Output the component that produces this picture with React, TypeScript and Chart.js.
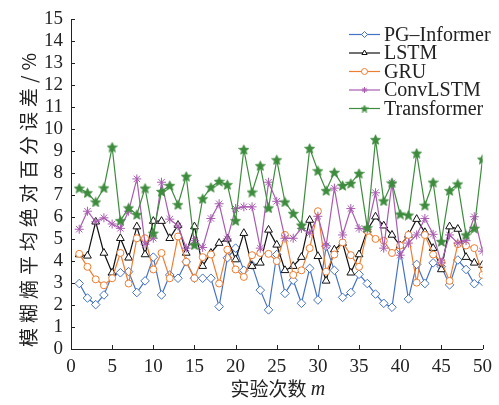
import React, { useEffect, useRef } from 'react';
import { Chart, registerables } from 'chart.js';
import { drawPoint } from 'chart.js/helpers';

Chart.register(...registerables);

const trials = [1,2,3,4,5,6,7,8,9,10,11,12,13,14,15,16,17,18,19,20,21,22,23,24,25,26,27,28,29,30,31,32,33,34,35,36,37,38,39,40,41,42,43,44,45,46,47,48,49,50];

const pgInformer = [2.98,2.32,2.02,2.46,3.37,3.47,3.52,2.57,3.1,4.18,2.46,3.37,3.22,3.97,3.22,3.22,3.22,1.93,4.15,4.59,3.58,3.82,2.68,1.78,4.3,2.53,3.13,2.08,3.67,2.23,4.67,3.58,2.35,2.57,3.4,2.98,2.5,2.08,1.9,4.55,2.28,3.85,2.98,3.92,3.75,2.92,4.05,3.62,2.97,3.07];
const lstm = [4.3,4.24,5.79,4.37,3.47,5.04,4.15,5.57,4.3,5.82,5.82,5.04,5.64,4.37,5.57,3.77,4.37,4.82,5.01,4.07,5.27,3.77,3.92,5.42,4.74,3.58,3.77,4.18,5.87,4.22,3.1,4.52,4.82,3.47,4.3,5.42,6.02,5.61,5.19,4.71,5.19,5.91,5.31,4.59,3.62,5.57,5.46,4.18,3.92,3.82];
const gru = [4.33,3.74,3.17,2.9,3.22,4.37,2.98,5.04,5.04,3.62,4.37,3.22,5.12,3.97,3.22,4.18,4.3,2.98,4.52,3.62,3.28,4.27,4.37,4.33,4.0,5.19,3.37,3.58,4.59,6.27,3.52,4.3,4.85,4.27,3.74,5.37,5.01,4.93,4.37,4.71,5.19,3.02,5.19,4.3,3.97,3.1,4.77,4.71,4.59,3.37];
const convLstm = [5.45,6.27,5.79,5.97,5.69,5.49,6.27,7.74,4.77,5.04,7.59,5.91,5.6,4.59,4.93,4.62,5.94,6.61,5.01,6.39,6.47,6.47,4.59,7.59,6.72,5.04,5.04,5.49,5.27,6.04,4.7,7.32,5.19,6.39,5.49,5.45,7.11,4.59,7.56,4.27,4.82,5.19,5.94,5.22,3.92,5.19,4.82,4.93,6.02,4.45];
const transformer = [7.32,7.11,6.69,7.33,9.19,5.84,6.42,6.12,7.32,5.27,7.17,7.44,6.57,7.86,4.74,6.84,7.36,7.63,7.48,5.84,9.08,7.14,8.34,6.42,8.61,6.69,6.17,5.64,9.13,8.11,7.21,8.04,7.44,7.54,7.99,5.52,9.53,6.74,7.56,6.14,6.09,8.91,6.54,7.59,4.89,7.21,7.51,5.19,5.49,8.64];

const seriesNames = ['PG\u2013Informer', 'LSTM', 'GRU', 'ConvLSTM', 'Transformer'];
const seriesValues = [pgInformer, lstm, gru, convLstm, transformer];
const seriesColors = ['#4472C4', '#111111', '#ED7D31', '#A95CB0', '#3E8C3E'];

const xTicksMax = 50;
const yTicksMax = 15;
const xTitleCn = '实验次数';
const xTitleVar = 'm';
const yTitle = '模糊熵平均绝对百分误差/%';

function makeStar(size: number, color: string) {
  const c = document.createElement('canvas');
  c.width = size;
  c.height = size;
  const ctx = c.getContext('2d')!;
  const cx = size / 2, cy = size / 2 + 0.5, R = size / 2 - 0.3, r = R * 0.45;
  ctx.beginPath();
  for (let k = 0; k < 10; k++) {
    const rad = k % 2 ? r : R;
    const a = -Math.PI / 2 + (k * Math.PI) / 5;
    ctx.lineTo(cx + rad * Math.cos(a), cy + rad * Math.sin(a));
  }
  ctx.closePath();
  ctx.fillStyle = color;
  ctx.fill();
  ctx.strokeStyle = color;
  ctx.lineWidth = 0.8;
  ctx.stroke();
  return c;
}

export default function App() {
  const ref = useRef<HTMLCanvasElement | null>(null);

  useEffect(() => {
    document.body.style.margin = '0';
    const canvas = ref.current!;
    const starBig = makeStar(11, seriesColors[4]);
    const starSmall = makeStar(8, seriesColors[4]);
    const styles: any[] = ['rectRot', 'triangle', 'circle', 'star', starBig];
    const radii = [4.3, 4.5, 3.5, 4.5, 5];
    const legendStyles: any[] = ['rectRot', 'triangle', 'circle', 'star', starSmall];

    const datasets = seriesNames.map((name, i) => ({
      label: name,
      data: trials.map((t, j) => ({ x: t, y: seriesValues[i][j] })),
      borderColor: seriesColors[i],
      backgroundColor: '#ffffff',
      pointBorderColor: seriesColors[i],
      pointBackgroundColor: i === 4 ? seriesColors[i] : '#ffffff',
      pointStyle: styles[i],
      pointRadius: radii[i],
      pointBorderWidth: 1,
      borderWidth: 1.2,
      tension: 0,
      order: 5 - i,
    }));

    const deco = {
      id: 'deco',
      afterDraw(chart: any) {
        const ctx = chart.ctx as CanvasRenderingContext2D;
        const area = chart.chartArea;
        const xs = chart.scales.x;
        const ys = chart.scales.y;
        ctx.save();
        // inward ticks
        ctx.strokeStyle = '#222';
        ctx.lineWidth = 1;
        ctx.beginPath();
        ys.ticks.forEach((t: any) => {
          const py = Math.round(ys.getPixelForValue(t.value)) + 0.5;
          ctx.moveTo(area.left, py);
          ctx.lineTo(area.left + 4, py);
        });
        xs.ticks.forEach((t: any) => {
          const px = Math.round(xs.getPixelForValue(t.value)) + 0.5;
          ctx.moveTo(px, area.bottom);
          ctx.lineTo(px, area.bottom - 4);
        });
        ctx.stroke();

        // x title
        ctx.fillStyle = '#222';
        ctx.textBaseline = 'middle';
        ctx.textAlign = 'left';
        const cnFont = '19px "Noto Sans CJK SC"';
        const mFont = 'italic 20px "Liberation Serif"';
        ctx.font = cnFont;
        const w1 = ctx.measureText(xTitleCn + ' ').width;
        ctx.font = mFont;
        const w2 = ctx.measureText(xTitleVar).width;
        const cx = (area.left + area.right) / 2 + 1;
        const sx = cx - (w1 + w2) / 2;
        const ty = 389;
        ctx.font = cnFont;
        ctx.fillText(xTitleCn + ' ', sx, ty);
        ctx.font = mFont;
        ctx.fillText(xTitleVar, sx + w1, ty + 1);

        // y title (rotated, char by char with spacing)
        ctx.save();
        ctx.translate(29, area.bottom - 2);
        ctx.rotate(-Math.PI / 2);
        ctx.font = '19px "Noto Sans CJK SC"';
        ctx.textBaseline = 'middle';
        let pos = 0;
        for (const ch of Array.from(yTitle)) {
          ctx.fillText(ch, pos, 0);
          pos += ctx.measureText(ch).width + 5.0;
        }
        ctx.restore();

        // legend
        const lx0 = 349, lx1 = 380, tx = 384;
        ctx.font = '20px "Liberation Serif"';
        ctx.textBaseline = 'middle';
        chart.data.datasets.forEach((ds: any, i: number) => {
          const y = 34.5 + i * 18.5;
          ctx.strokeStyle = seriesColors[i];
          ctx.lineWidth = 1.2;
          ctx.beginPath();
          ctx.moveTo(lx0, y);
          ctx.lineTo(lx1, y);
          ctx.stroke();
          ctx.fillStyle = i === 4 ? seriesColors[i] : '#ffffff';
          ctx.strokeStyle = seriesColors[i];
          ctx.lineWidth = 1;
          drawPoint(ctx, { pointStyle: legendStyles[i], rotation: 0, radius: 3, borderWidth: 1 }, (lx0 + lx1) / 2, y);
          ctx.fillStyle = '#222';
          ctx.fillText(ds.label, tx, y + 1);
        });
        ctx.restore();
      },
    };

    const chart = new Chart(canvas, {
      type: 'line',
      data: { datasets },
      options: {
        responsive: false,
        animation: false,
        devicePixelRatio: 1,
        layout: { padding: { left: 0, top: 15, right: 13, bottom: 0 } },
        plugins: { legend: { display: false }, tooltip: { enabled: false } },
        scales: {
          x: {
            type: 'linear',
            min: 0,
            max: xTicksMax,
            afterFit: (s: any) => { s.height = 56; },
            grid: { display: false, drawTicks: false },
            border: { display: true, color: '#222', width: 1 },
            ticks: { stepSize: 5, autoSkip: false, maxRotation: 0, padding: 7, color: '#222', font: { family: '"Liberation Serif"', size: 19 } },
          },
          y: {
            type: 'linear',
            min: 0,
            max: yTicksMax,
            afterFit: (s: any) => { s.width = 71; },
            grid: { display: false, drawTicks: false },
            border: { display: true, color: '#222', width: 1 },
            ticks: { stepSize: 1, autoSkip: false, padding: 8, color: '#222', font: { family: '"Liberation Serif"', size: 19 } },
          },
        },
      },
      plugins: [deco],
    });
    return () => chart.destroy();
  }, []);

  return (
    <div style={{ position: 'absolute', left: 0, top: 0, width: 499, height: 405, background: '#fff' }}>
      <canvas ref={ref} width={499} height={405} style={{ display: 'block', width: 499, height: 405 }} />
    </div>
  );
}
